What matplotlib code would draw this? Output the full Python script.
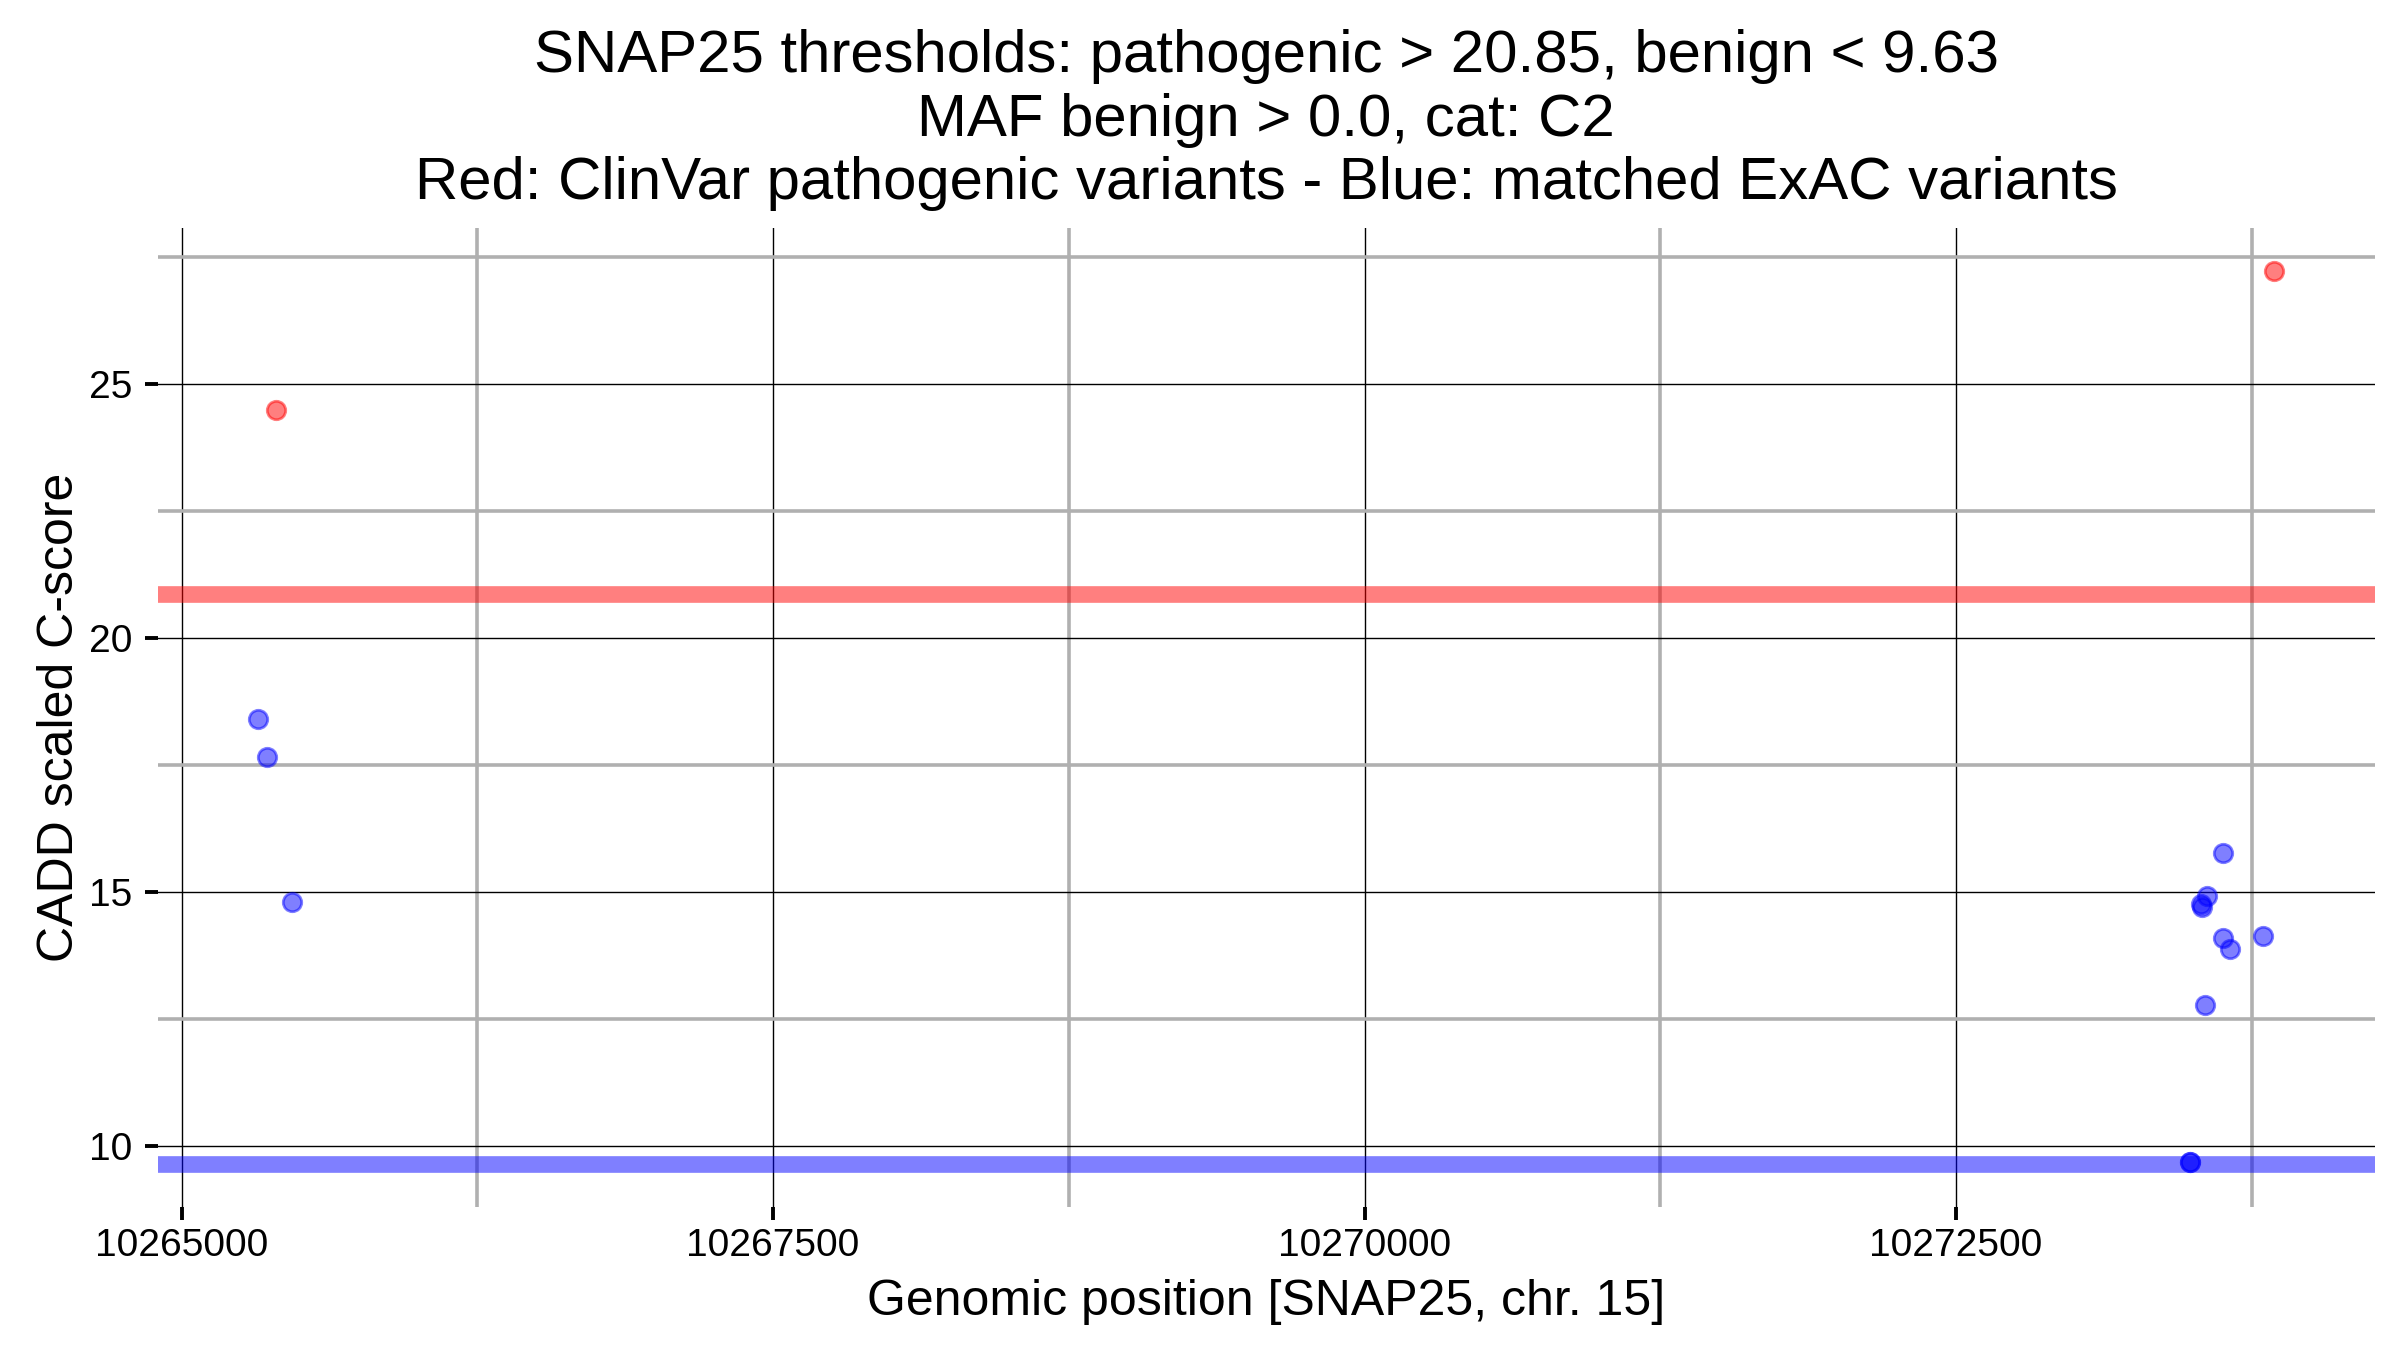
import matplotlib
matplotlib.use('Agg')
import matplotlib.pyplot as plt
from matplotlib.ticker import MultipleLocator, FuncFormatter

plt.rcParams['font.family'] = ['Liberation Sans', 'DejaVu Sans']

# ClinVar pathogenic variants (red)
clinvar_pos = [10265399, 10273844]
clinvar_cadd = [24.49, 27.21]

# matched ExAC variants (blue)
exac_pos = [10265324, 10265359, 10265466,
            10273630, 10273562, 10273535, 10273541, 10273630,
            10273658, 10273797, 10273553, 10273489, 10273489]
exac_cadd = [18.40, 17.66, 14.80,
             15.77, 14.91, 14.75, 14.70, 14.08,
             13.88, 14.12, 12.76, 9.67, 9.67]

pathogenic_thr = 20.85
benign_thr = 9.63

fig = plt.figure(figsize=(12, 6.75), dpi=200)
ax = fig.add_axes([0.0657, 0.1059, 0.9239, 0.7250])

ax.scatter(clinvar_pos, clinvar_cadd, s=44, color='red', alpha=0.5, zorder=3)
ax.scatter(exac_pos, exac_cadd, s=44, color='blue', alpha=0.5, zorder=3)

# threshold bands
ax.axhline(pathogenic_thr, color='red', alpha=0.5, linewidth=6, zorder=2)
ax.axhline(benign_thr, color='blue', alpha=0.5, linewidth=6, zorder=2)

ax.set_xlim(10264899, 10274271)
ax.set_ylim(8.79, 28.06)

ax.xaxis.set_major_locator(MultipleLocator(2500))
ax.xaxis.set_minor_locator(MultipleLocator(1250))
ax.yaxis.set_major_locator(MultipleLocator(5))
ax.yaxis.set_minor_locator(MultipleLocator(2.5))
ax.xaxis.set_major_formatter(FuncFormatter(lambda v, p: '%d' % v))
ax.yaxis.set_major_formatter(FuncFormatter(lambda v, p: '%d' % v))

ax.grid(which='major', color='black', linewidth=0.5, zorder=1)
ax.grid(which='minor', color='#b0b0b0', linewidth=1.3, zorder=1)
ax.set_axisbelow(True)

for s in ax.spines.values():
    s.set_visible(False)

ax.tick_params(which='major', direction='out', length=4.6, width=1.4, labelsize=14)
ax.tick_params(axis='x', which='major', pad=3)
ax.tick_params(axis='y', which='major', pad=4.5)
ax.tick_params(which='minor', length=0)

ax.set_xlabel('Genomic position [SNAP25, chr. 15]', fontsize=18, labelpad=5.5)
ax.set_ylabel('CADD scaled C-score', fontsize=18, labelpad=2)
ax.set_title('SNAP25 thresholds: pathogenic > 20.85, benign < 9.63\n'
             'MAF benign > 0.0, cat: C2\n'
             'Red: ClinVar pathogenic variants - Blue: matched ExAC variants',
             fontsize=21.6, pad=10.5)

fig.savefig('out.png', dpi=200)
